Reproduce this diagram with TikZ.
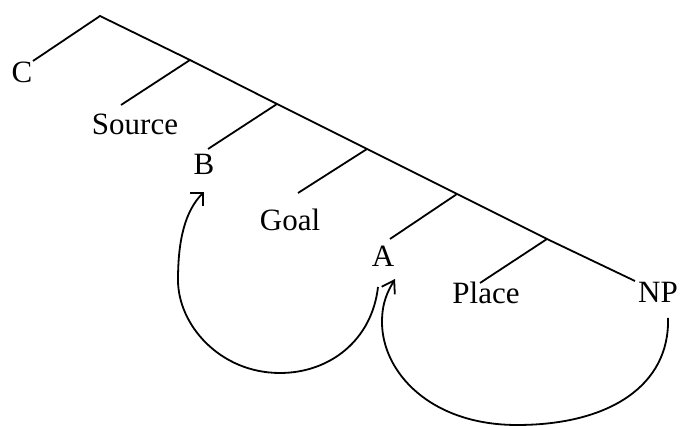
\documentclass[tikz,border=0pt]{standalone}
\usepackage{fontspec}
\setmainfont{Liberation Serif}
\usetikzlibrary{arrows.meta}
\begin{document}
\begin{tikzpicture}[x=0.5pt,y=-0.5pt,
  lbl/.style={anchor=base,inner sep=0pt,font=\fontsize{15.5}{18}\selectfont},
  edge/.style={line width=0.9pt},
  link/.style={line width=0.9pt},
  tipA/.style={-{Straight Barb[angle=90:6.5pt,line width=0.9pt]}},
  tipB/.style={-{Straight Barb[angle=66:7pt,line width=0.9pt]}}]
\useasboundingbox (0,0) rectangle (682,426);
% labels
\node[lbl] (C) at (22,83) {C};
\node[lbl] (Source) at (135,135) {Source};
\node[lbl] (B) at (204,175) {B};
\node[lbl] (Goal) at (290,231) {Goal};
\node[lbl] (A) at (383,267) {A};
\node[lbl] (Place) at (486,304) {Place};
\node[lbl] (NP) at (658,303) {NP};
% tree junctions
\coordinate (r) at (100,16);
\coordinate (j1) at (190,60);
\coordinate (j2) at (277,104);
\coordinate (j3) at (367,149);
\coordinate (j4) at (457,194);
\coordinate (j5) at (547,239);
\coordinate (eNP) at (635,281);
\coordinate (eC) at (33,61);
\coordinate (eS) at (121,105);
\coordinate (eB) at (208,149);
\coordinate (eG) at (298,193);
\coordinate (eA) at (390,239);
\coordinate (eP) at (480,283);
\draw[edge] (eC) -- (r) -- (j1) -- (j2) -- (j3) -- (j4) -- (j5) -- (eNP);
\draw[edge] (j1) -- (eS);
\draw[edge] (j2) -- (eB);
\draw[edge] (j3) -- (eG);
\draw[edge] (j4) -- (eA);
\draw[edge] (j5) -- (eP);
% arrows
\coordinate (a1s) at (378,287);
\coordinate (a1e) at (204,192);
\coordinate (a2s) at (668,318);
\coordinate (a2e) at (395,279);
\draw[link,tipA] (a1s) .. controls (372,340) and (330,373) .. (280,373)
  .. controls (220,373) and (178,325) .. (178,280)
  .. controls (178,240) and (185,211) .. (a1e);
\draw[link,tipB] (a2s) .. controls (670,385) and (610,425) .. (517,425)
  .. controls (430,425) and (382,372) .. (382,322)
  .. controls (382,302) and (388,291) .. (a2e);
\end{tikzpicture}
\end{document}
